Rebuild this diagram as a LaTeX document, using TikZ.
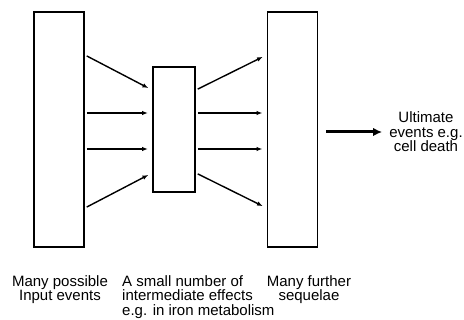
\documentclass[tikz,border=0pt]{standalone}
\usepackage{fontspec}
\setmainfont{Liberation Sans}
\usetikzlibrary{arrows.meta,positioning}
\tikzset{
  stage/.style={draw,line width=1.9pt,minimum width=50pt,inner sep=0pt},
  link/.style={-{Latex[length=6pt,width=4.5pt]},line width=1.4pt,shorten >=4pt,shorten <=2pt},
  flat/.style={link,line width=1.9pt},
  lbl/.style={align=center,font=\fontsize{15}{14.5}\selectfont,inner sep=0pt},
}
\begin{document}
\begin{tikzpicture}[x=1pt,y=-1pt]
\useasboundingbox (0,0) rectangle (464,320);
% the three stages
\node[stage,minimum height=235pt] (input) at (59,129.5) {};
\node[stage,minimum width=42pt,minimum height=125pt] (effect) at (174,129.5) {};
\node[stage,minimum height=235pt] (sequel) at (292.5,129.5) {};
% input events to intermediate effects
\draw[link] ([yshift=74.5pt]input.east) -- ([yshift=39.5pt]effect.west);
\draw[flat] ([yshift=16.5pt]input.east) -- ([yshift=16.5pt]effect.west);
\draw[flat] ([yshift=-19.5pt]input.east) -- ([yshift=-19.5pt]effect.west);
\draw[link] ([yshift=-78.5pt]input.east) -- ([yshift=-43.5pt]effect.west);
% intermediate effects to sequelae
\draw[link] ([yshift=39.5pt]effect.east) -- ([yshift=74.5pt]sequel.west);
\draw[flat] ([yshift=16.5pt]effect.east) -- ([yshift=16.5pt]sequel.west);
\draw[flat] ([yshift=-19.5pt]effect.east) -- ([yshift=-19.5pt]sequel.west);
\draw[link] ([yshift=-43.5pt]effect.east) -- ([yshift=-78.5pt]sequel.west);
% ultimate events
\node[lbl] (ultimate) at (426,132) {Ultimate\\events e.g.\\cell death};
\draw[-{Latex[length=9pt,width=8.5pt]},line width=3pt,shorten <=8pt,shorten >=7pt] (ultimate.west -| sequel.east) -- (ultimate.west);
% labels below
\node[lbl,anchor=north] (inputlbl) at (60,275) {Many possible\\Input events};
\node[lbl,anchor=north west,align=left] (effectlbl) at (122,275) {A small number of\\intermediate effects\\e.g. in iron metabolism};
\node[lbl,anchor=north] (sequellbl) at (309,275) {Many further\\sequelae};
\end{tikzpicture}
\end{document}
